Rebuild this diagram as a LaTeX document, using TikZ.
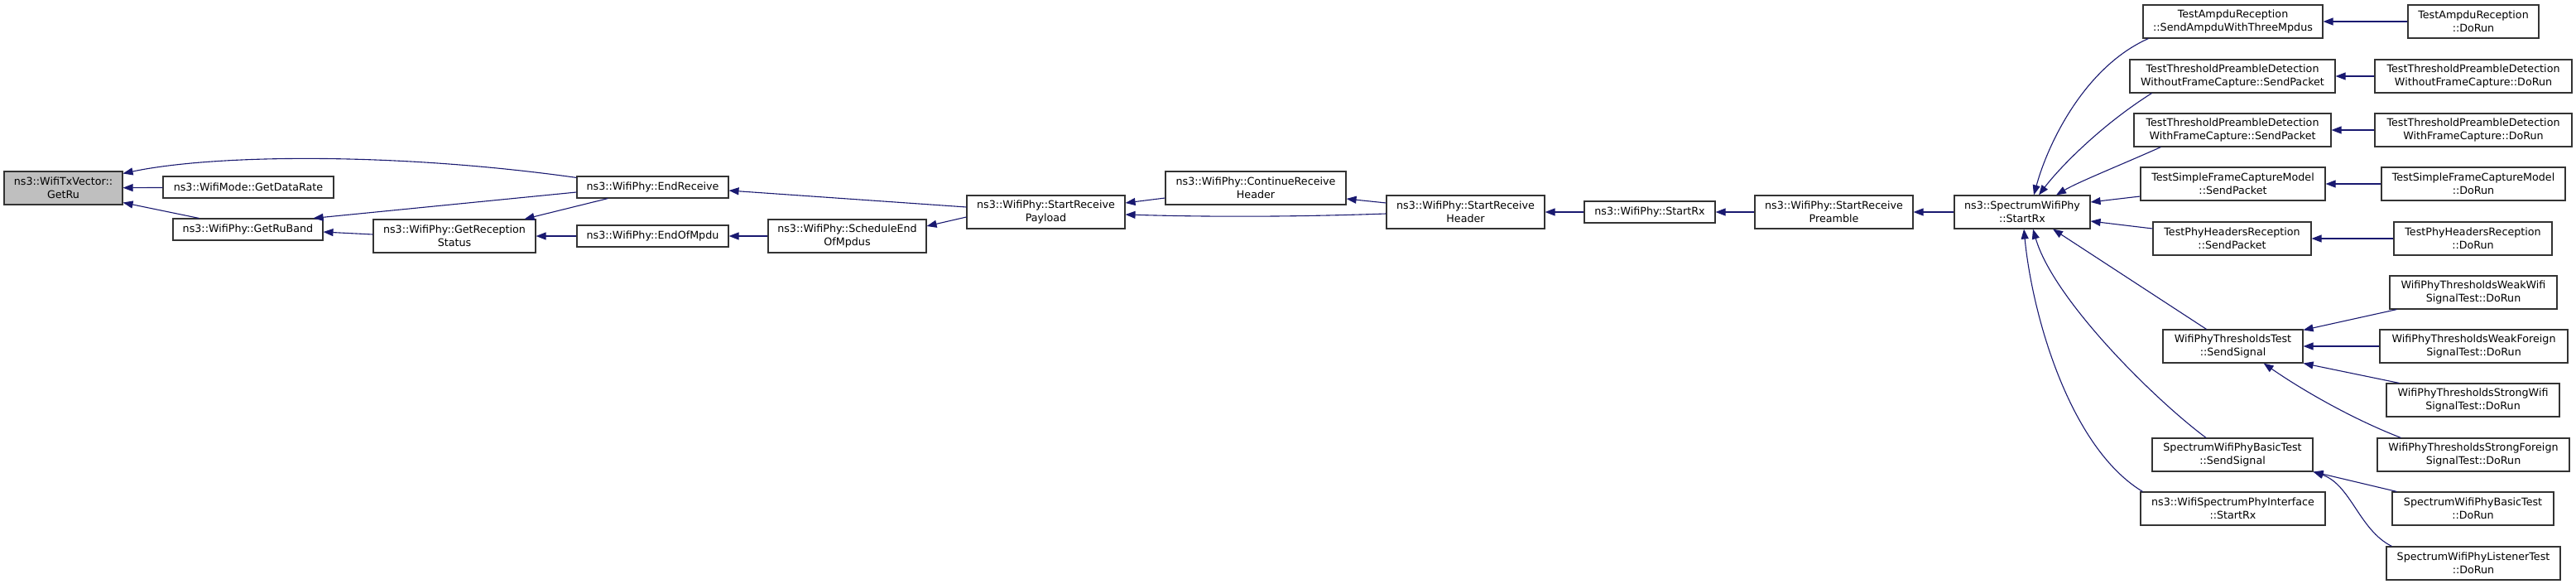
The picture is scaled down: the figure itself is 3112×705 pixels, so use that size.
\documentclass[tikz,border=0pt]{standalone}
\usepackage{fontspec}
\setmainfont{DejaVu Sans}
\usetikzlibrary{arrows.meta}
\definecolor{edgeblue}{HTML}{191970}
\definecolor{hlgrey}{HTML}{BFBFBF}

\begin{document}
\begin{tikzpicture}[
									x = 1bp,
									y = -1bp,
									fn/.style = {
										draw = black!80,
										rectangle,
										line width = 1.1bp,
										fill = white,
										inner sep = 0,
										align = center,
										font = \fontsize{12.7bp}{15.5bp}\selectfont
									},
									hl/.style = {
										fn,
										fill = hlgrey
									},
									call/.style = {
										draw = edgeblue,
										line width = 1.1bp,
										-{Triangle[length = 12bp, width = 9bp]}
									}
								]
							\useasboundingbox (0, 0) rectangle (3112, 705);

							% left part, callees
							\node [hl, minimum width = 143bp, minimum height = 40bp] (getru) at (76.5, 227) {ns3::WifiTxVector::\\GetRu};
							\node [fn, minimum width = 206bp, minimum height = 26bp] (datarate) at (300, 226) {ns3::WifiMode::GetDataRate};
							\node [fn, minimum width = 181bp, minimum height = 26bp] (ruband) at (299.5, 277) {ns3::WifiPhy::GetRuBand};
							\node [fn, minimum width = 183bp, minimum height = 26bp] (endrx) at (788.5, 226) {ns3::WifiPhy::EndReceive};
							\node [fn, minimum width = 196bp, minimum height = 40bp] (rxstatus) at (549, 285) {ns3::WifiPhy::GetReception\\Status};
							\node [fn, minimum width = 183bp, minimum height = 26bp] (endmpdu) at (788.5, 285) {ns3::WifiPhy::EndOfMpdu};
							\node [fn, minimum width = 191bp, minimum height = 40bp] (schedend) at (1023.5, 285) {ns3::WifiPhy::ScheduleEnd\\OfMpdus};

							% middle chain
							\node [fn, minimum width = 191bp, minimum height = 40bp] (payload) at (1263.5, 256) {ns3::WifiPhy::StartReceive\\Payload};
							\node [fn, minimum width = 218bp, minimum height = 40bp] (conthdr) at (1517, 227) {ns3::WifiPhy::ContinueReceive\\Header};
							\node [fn, minimum width = 191bp, minimum height = 40bp] (rxhdr) at (1770.5, 256) {ns3::WifiPhy::StartReceive\\Header};
							\node [fn, minimum width = 158bp, minimum height = 26bp] (startrx) at (1993, 256) {ns3::WifiPhy::StartRx};
							\node [fn, minimum width = 191bp, minimum height = 40bp] (preamble) at (2215.5, 256) {ns3::WifiPhy::StartReceive\\Preamble};
							\node [fn, minimum width = 164bp, minimum height = 40bp] (swprx) at (2443, 256) {ns3::SpectrumWifiPhy\\::StartRx};

							% test callers
							\node [fn, minimum width = 217bp, minimum height = 40bp] (ampdusend) at (2697.5, 26) {TestAmpduReception\\::SendAmpduWithThreeMpdus};
							\node [fn, minimum width = 158bp, minimum height = 40bp] (ampdurun) at (2988, 26) {TestAmpduReception\\::DoRun};
							\node [fn, minimum width = 248bp, minimum height = 40bp] (wofcsend) at (2697, 92) {TestThresholdPreambleDetection\\WithoutFrameCapture::SendPacket};
							\node [fn, minimum width = 238bp, minimum height = 40bp] (wofcrun) at (2988, 92) {TestThresholdPreambleDetection\\WithoutFrameCapture::DoRun};
							\node [fn, minimum width = 238bp, minimum height = 40bp] (wfcsend) at (2697, 157) {TestThresholdPreambleDetection\\WithFrameCapture::SendPacket};
							\node [fn, minimum width = 238bp, minimum height = 40bp] (wfcrun) at (2988, 157) {TestThresholdPreambleDetection\\WithFrameCapture::DoRun};
							\node [fn, minimum width = 223bp, minimum height = 40bp] (sfcmsend) at (2697.5, 222) {TestSimpleFrameCaptureModel\\::SendPacket};
							\node [fn, minimum width = 222bp, minimum height = 40bp] (sfcmrun) at (2988, 222) {TestSimpleFrameCaptureModel\\::DoRun};
							\node [fn, minimum width = 191bp, minimum height = 40bp] (phrsend) at (2696.5, 288) {TestPhyHeadersReception\\::SendPacket};
							\node [fn, minimum width = 191bp, minimum height = 40bp] (phrrun) at (2987.5, 288) {TestPhyHeadersReception\\::DoRun};
							\node [fn, minimum width = 169bp, minimum height = 40bp] (thrsend) at (2697.5, 418) {WifiPhyThresholdsTest\\::SendSignal};
							\node [fn, minimum width = 202bp, minimum height = 40bp] (weakwifi) at (2988, 353) {WifiPhyThresholdsWeakWifi\\SignalTest::DoRun};
							\node [fn, minimum width = 227bp, minimum height = 40bp] (weakforeign) at (2988.5, 418) {WifiPhyThresholdsWeakForeign\\SignalTest::DoRun};
							\node [fn, minimum width = 209bp, minimum height = 40bp] (strongwifi) at (2987.5, 483) {WifiPhyThresholdsStrongWifi\\SignalTest::DoRun};
							\node [fn, minimum width = 232bp, minimum height = 40bp] (strongforeign) at (2988, 549) {WifiPhyThresholdsStrongForeign\\SignalTest::DoRun};
							\node [fn, minimum width = 194bp, minimum height = 40bp] (basicsend) at (2697, 549) {SpectrumWifiPhyBasicTest\\::SendSignal};
							\node [fn, minimum width = 223bp, minimum height = 40bp] (ifacerx) at (2697.5, 614) {ns3::WifiSpectrumPhyInterface\\::StartRx};
							\node [fn, minimum width = 195bp, minimum height = 40bp] (basicrun) at (2987.5, 614) {SpectrumWifiPhyBasicTest\\::DoRun};
							\node [fn, minimum width = 210bp, minimum height = 40bp] (listenerrun) at (2988, 680) {SpectrumWifiPhyListenerTest\\::DoRun};

							% edges, caller to callee
							\draw [call] ([yshift = -2bp]endrx.north west) .. controls (480, 184) and (260, 186) .. ([yshift = -3bp]getru.north east);
							\draw [call] (datarate) -- (getru);
							\draw [call] ([xshift = 32bp]ruband.north west) -- ([yshift = 3bp]getru.south east);
							\draw [call] ([yshift = -6bp]endrx.west) -- ([xshift = -12bp]ruband.north east);
							\draw [call] ([yshift = 2bp]rxstatus.west) -- ([yshift = -3bp]ruband.east);
							\draw [call] ([xshift = -54bp]endrx.south) -- ([xshift = -14bp]rxstatus.north east);
							\draw [call] (endmpdu) -- (rxstatus);
							\draw [call] (schedend) -- (endmpdu);
							\draw [call] ([yshift = 6bp]payload.west) -- ([yshift = -4bp]endrx.east);
							\draw [call] ([yshift = -6bp]payload.west) -- ([yshift = 12bp]schedend.east);
							\draw [call] ([yshift = -12bp]conthdr.west) -- ([yshift = 11bp]payload.east);
							\draw [call] ([yshift = -2bp]rxhdr.west) .. controls (1560, 262) and (1460, 262) .. ([yshift = -3bp]payload.east);
							\draw [call] ([yshift = 11bp]rxhdr.west) -- ([yshift = -13bp]conthdr.east);
							\draw [call] (startrx) -- (rxhdr);
							\draw [call] (preamble) -- (startrx);
							\draw [call] (swprx) -- (preamble);

							\draw [call] ([xshift = 7bp]ampdusend.south west) .. controls (2520, 80) and (2475, 170) .. ([xshift = 14bp]swprx.north);
							\draw [call] ([xshift = 27bp]wofcsend.south west) .. controls (2540, 150) and (2490, 200) .. ([xshift = 20bp]swprx.north);
							\draw [call] ([xshift = 33bp]wfcsend.south west) .. controls (2560, 200) and (2510, 220) .. ([xshift = 41bp]swprx.north);
							\draw [call] ([yshift = -15bp]sfcmsend.west) -- ([yshift = 12bp]swprx.east);
							\draw [call] ([yshift = 12bp]phrsend.west) -- ([yshift = -11bp]swprx.east);
							\draw [call] ([xshift = -32bp]thrsend.north) -- ([xshift = 37bp]swprx.south);
							\draw [call] ([xshift = -32bp]basicsend.north) .. controls (2600, 480) and (2480, 360) .. ([xshift = 13bp]swprx.south);
							\draw [call] ([xshift = 3bp]ifacerx.north west) .. controls (2500, 540) and (2455, 380) .. ([xshift = 2bp]swprx.south);

							\draw [call] (ampdurun) -- (ampdusend);
							\draw [call] (wofcrun) -- (wofcsend);
							\draw [call] (wfcrun) -- (wfcsend);
							\draw [call] (sfcmrun) -- (sfcmsend);
							\draw [call] (phrrun) -- (phrsend);

							\draw [call] ([xshift = 9bp]weakwifi.south west) -- ([yshift = -1bp]thrsend.north east);
							\draw [call] (weakforeign) -- (thrsend);
							\draw [call] ([xshift = 16bp]strongwifi.north west) -- (thrsend.south east);
							\draw [call] ([xshift = 29bp]strongforeign.north west) .. controls (2840, 505) and (2780, 470) .. ([xshift = -48bp]thrsend.south east);
							\draw [call] ([xshift = 6bp]basicrun.north west) -- (basicsend.south east);
							\draw [call] ([xshift = 7bp]listenerrun.north west) .. controls (2850, 640) and (2840, 585) .. (basicsend.south east);
						\end{tikzpicture}
\end{document}
